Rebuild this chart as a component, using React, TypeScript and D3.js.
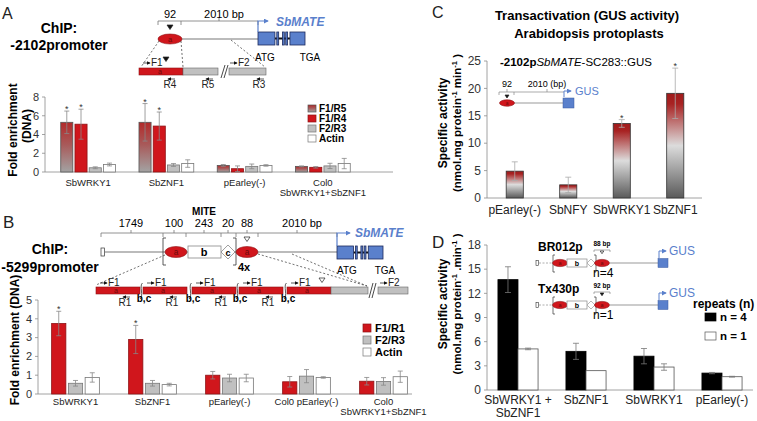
import React from "react";
import * as d3 from "d3";

const FONT = "'Liberation Sans', Arial, Helvetica, sans-serif";
const RED = "#d0161c";
const RED_DARK = "#8e1215";
const GREY = "#c0c0c0";
const AXIS = "#8c8c8c";
const BLUE = "#5a80cc";
const NAVY = "#1d2a5c";

// A: ChIP on the -2102 promoter
const chipAGroups = ["SbWRKY1", "SbZNF1", "pEarley(-)", "Col0\nSbWRKY1+SbZNF1"];
const chipASeries = ["F1/R5", "F1/R4", "F2/R3", "Actin"];
const chipAF1R5 = [5.3, 5.3, 0.7, 0.6];
const chipAF1R5Err = [1.2, 2.0, 0.1, 0.05];
const chipAF1R4 = [5.1, 4.9, 0.35, 0.5];
const chipAF1R4Err = [1.6, 1.5, 0.3, 0.08];
const chipAF2R3 = [0.45, 0.75, 0.6, 0.65];
const chipAF2R3Err = [0.1, 0.15, 0.25, 0.28];
const chipAActin = [0.8, 0.9, 0.7, 0.9];
const chipAActinErr = [0.15, 0.4, 0.08, 0.55];
const chipAStars = [true, true, false, false];
const chipATicks = [0, 2, 4, 6, 8];

// B: ChIP on the -5299 promoter
const chipBGroups = ["SbWRKY1", "SbZNF1", "pEarley(-)", "Col0 pEarley(-)", "Col0\nSbWRKY1+SbZNF1"];
const chipBSeries = ["F1/R1", "F2/R3", "Actin"];
const chipBF1R1 = [3.75, 2.9, 1.0, 0.65, 0.68];
const chipBF1R1Err = [0.65, 0.75, 0.2, 0.28, 0.2];
const chipBF2R3 = [0.57, 0.57, 0.85, 0.95, 0.67];
const chipBF2R3Err = [0.15, 0.15, 0.2, 0.35, 0.2];
const chipBActin = [0.88, 0.5, 0.85, 0.88, 0.92];
const chipBActinErr = [0.25, 0.07, 0.2, 0.04, 0.3];
const chipBStars = [true, true, false, false, false];
const chipBTicks = [0, 1, 2, 3, 4, 5];

// C: GUS transactivation
const gusCats = ["pEarley(-)", "SbNFY", "SbWRKY1", "SbZNF1"];
const gusActivity = [4.9, 2.4, 13.6, 19.1];
const gusErr = [1.7, 1.4, 0.7, 4.6];
const gusStars = [false, false, true, true];
const gusTicks = [0, 5, 10, 15, 20, 25];

// D: repeats
const repCats = ["SbWRKY1 +\nSbZNF1", "SbZNF1", "SbWRKY1", "pEarley(-)"];
const repSeries = ["n = 4", "n = 1"];
const repN4 = [13.7, 4.8, 4.2, 2.1];
const repN4Err = [1.6, 1.0, 0.95, 0.08];
const repN1 = [5.1, 2.4, 2.85, 1.65];
const repN1Err = [0.1, 0, 0.4, 0.05];
const repTicks = [0, 3, 6, 9, 12, 15, 18];

type Series = { key: string; values: number[]; errors: number[]; fill: string; stroke: string };

function GroupedBars({ groups, series, x0, y, innerPad, errColor, stars, starKeys, cap = 2.5 }: any) {
  const x1 = d3
    .scaleBand<string>()
    .domain(series.map((s: Series) => s.key))
    .range([0, x0.bandwidth()])
    .paddingInner(innerPad);
  const bw = x1.bandwidth();
  return (
    <g>
      {groups.map((g: string, gi: number) => (
        <g key={g} transform={`translate(${x0(g)},0)`}>
          {series.map((s: Series) => {
            const v = s.values[gi];
            const e = s.errors[gi];
            const bx = x1(s.key)!;
            const cx = bx + bw / 2;
            const lo = y(Math.max(0, v - e));
            const hi = y(v + e);
            return (
              <g key={s.key}>
                <rect x={bx} y={y(v)} width={bw} height={y(0) - y(v)} fill={s.fill} stroke={s.stroke} strokeWidth={0.8} />
                {e > 0 && (
                  <g stroke={errColor} strokeWidth={0.8}>
                    <line x1={cx} x2={cx} y1={hi} y2={lo} />
                    <line x1={cx - cap} x2={cx + cap} y1={hi} y2={hi} />
                    <line x1={cx - cap} x2={cx + cap} y1={lo} y2={lo} />
                  </g>
                )}
                {stars && starKeys.includes(s.key) && stars[gi] && (
                  <text x={cx} y={hi + 1} textAnchor="middle" fontSize={9} fill="#333">
                    *
                  </text>
                )}
              </g>
            );
          })}
        </g>
      ))}
    </g>
  );
}

function YAxis({ y, x, ticks, fontSize }: any) {
  const [y0, y1] = y.range();
  return (
    <g>
      <line x1={x} x2={x} y1={y0} y2={y1} stroke={AXIS} strokeWidth={0.8} />
      {ticks.map((t: number) => (
        <g key={t}>
          <line x1={x - 3} x2={x} y1={y(t)} y2={y(t)} stroke={AXIS} strokeWidth={0.8} />
          <text x={x - 6} y={y(t)} dy="0.35em" textAnchor="end" fontSize={fontSize} fill="#333">
            {t}
          </text>
        </g>
      ))}
    </g>
  );
}

function CatLabels({ x, groups, y0, lh, fontSize }: any) {
  return (
    <g>
      {groups.map((g: string) => (
        <text key={g} x={x(g) + x.bandwidth() / 2} y={y0} textAnchor="middle" fontSize={fontSize} fill="#222">
          {g.split("\n").map((line, i) => (
            <tspan key={i} x={x(g) + x.bandwidth() / 2} dy={i === 0 ? 0 : lh}>
              {line}
            </tspan>
          ))}
        </text>
      ))}
    </g>
  );
}

function RedA({ cx, cy, rx, ry }: any) {
  return (
    <g>
      <ellipse cx={cx} cy={cy} rx={rx} ry={ry} fill={RED} stroke={RED_DARK} strokeWidth={0.6} />
      <text x={cx} y={cy + ry * 0.55} textAnchor="middle" fontSize={ry * 1.5} fill="#6b0b0b">
        a
      </text>
    </g>
  );
}

function Gene({ x, y, w, h }: any) {
  const mid = y + h / 2;
  return (
    <g stroke={NAVY} strokeWidth={0.8} fill={BLUE}>
      <line x1={x + w * 0.36} x2={x + w * 0.68} y1={mid} y2={mid} stroke="#111" strokeWidth={2} />
      <rect x={x} y={y} width={w * 0.36} height={h} />
      <rect x={x + w * 0.4} y={y} width={w * 0.04} height={h} />
      <rect x={x + w * 0.52} y={y} width={w * 0.04} height={h} />
      <rect x={x + w * 0.59} y={y} width={w * 0.04} height={h} />
      <rect x={x + w * 0.68} y={y} width={w * 0.32} height={h} />
    </g>
  );
}

const tri = (cx: number, top: number, s: number, filled: boolean) => (
  <path
    d={`M${cx - s},${top}L${cx + s},${top}L${cx},${top + s * 1.5}Z`}
    fill={filled ? "#111" : "#fff"}
    stroke="#222"
    strokeWidth={0.7}
  />
);

const fwd = (x: number, y: number, label: string) => (
  <g key={`f${x}`}>
    <line x1={x} x2={x + 7} y1={y} y2={y} stroke="#111" strokeWidth={0.7} markerEnd="url(#ah)" />
    <text x={x + 8} y={y + 3} fontSize={10} fill="#222">
      {label}
    </text>
  </g>
);

const rev = (xc: number, y: number, label: string) => (
  <g key={`r${xc}`}>
    <line x1={xc + 5} x2={xc - 2} y1={y} y2={y} stroke="#111" strokeWidth={0.7} markerEnd="url(#ah)" />
    <text x={xc} y={y + 9} textAnchor="middle" fontSize={10} fill="#222">
      {label}
    </text>
  </g>
);

function Sup({ children }: any) {
  return (
    <>
      <tspan dy={-4} fontSize={7.5}>
        {children}
      </tspan>
      <tspan dy={4}> </tspan>
    </>
  );
}

export default function App() {
  // panel A scales
  const aY = d3.scaleLinear().domain([0, 8]).range([172, 97]);
  const aX = d3.scaleBand<string>().domain(chipAGroups).range([49, 362]).paddingInner(0.3).paddingOuter(0.15);
  const aSeries: Series[] = [
    { key: chipASeries[0], values: chipAF1R5, errors: chipAF1R5Err, fill: "url(#gradA)", stroke: "#555" },
    { key: chipASeries[1], values: chipAF1R4, errors: chipAF1R4Err, fill: RED, stroke: RED_DARK },
    { key: chipASeries[2], values: chipAF2R3, errors: chipAF2R3Err, fill: GREY, stroke: "#777" },
    { key: chipASeries[3], values: chipAActin, errors: chipAActinErr, fill: "#fff", stroke: "#777" },
  ];

  // panel B scales
  const bY = d3.scaleLinear().domain([0, 5]).range([394, 300]);
  const bX = d3.scaleBand<string>().domain(chipBGroups).range([37, 422]).paddingInner(0.38).paddingOuter(0.19);
  const bSeries: Series[] = [
    { key: chipBSeries[0], values: chipBF1R1, errors: chipBF1R1Err, fill: RED, stroke: RED_DARK },
    { key: chipBSeries[1], values: chipBF2R3, errors: chipBF2R3Err, fill: GREY, stroke: "#777" },
    { key: chipBSeries[2], values: chipBActin, errors: chipBActinErr, fill: "#fff", stroke: "#777" },
  ];

  // panel C scales
  const cY = d3.scaleLinear().domain([0, 25]).range([198, 61]);
  const cX = d3.scaleBand<string>().domain(gusCats).range([488, 702]).paddingInner(0.68).paddingOuter(0.34);
  const cSeries: Series[] = [{ key: "gus", values: gusActivity, errors: gusErr, fill: "url(#gradC)", stroke: "#333" }];

  // panel D scales
  const dY = d3.scaleLinear().domain([0, 18]).range([390, 245]);
  const dX = d3.scaleBand<string>().domain(repCats).range([484, 756]).paddingInner(0.41).paddingOuter(0.205);
  const dSeries: Series[] = [
    { key: repSeries[0], values: repN4, errors: repN4Err, fill: "#000", stroke: "#000" },
    { key: repSeries[1], values: repN1, errors: repN1Err, fill: "#fff", stroke: "#555" },
  ];

  const bSegs = [96, 143, 192, 239, 287];

  return (
    <svg
      width={757}
      height={421}
      style={{ position: "absolute", left: 0, top: 0, background: "#fff" }}
      fontFamily={FONT}
    >
      <defs>
        <linearGradient id="gradA" x1="0" y1="0" x2="0" y2="1">
          <stop offset="0" stopColor="#b32a2a" />
          <stop offset="0.45" stopColor="#a85a5a" />
          <stop offset="1" stopColor="#a3a3a3" />
        </linearGradient>
        <linearGradient id="gradC" x1="0" y1="0" x2="0" y2="1">
          <stop offset="0" stopColor="#a01b1b" />
          <stop offset="0.1" stopColor="#a82222" />
          <stop offset="0.5" stopColor="#dcdcdc" />
          <stop offset="1" stopColor="#5a5a5a" />
        </linearGradient>
        <marker id="ah" viewBox="0 0 6 6" refX="5" refY="3" markerWidth={4} markerHeight={4} markerUnits="userSpaceOnUse" orient="auto">
          <path d="M0,0L6,3L0,6z" fill="#111" />
        </marker>
        <marker id="ahb" viewBox="0 0 6 6" refX="5" refY="3" markerWidth={5} markerHeight={5} markerUnits="userSpaceOnUse" orient="auto">
          <path d="M0,0L6,3L0,6z" fill={BLUE} />
        </marker>
      </defs>

      {/* ================= Panel A ================= */}
      <text x={2} y={19} fontSize={16} fill="#222">A</text>
      <text x={59} y={33} textAnchor="middle" fontSize={14} fontWeight="bold">ChIP:</text>
      <text x={59} y={50} textAnchor="middle" fontSize={14} fontWeight="bold">-2102promoter</text>

      {/* diagram */}
      <g stroke="#777" strokeWidth={0.8} fill="none">
        <path d="M158,25V21H258V25M181,21V25M219,21V18" />
      </g>
      <text x={170} y={18} textAnchor="middle" fontSize={11}>92</text>
      <text x={224} y={18} textAnchor="middle" fontSize={11}>2010 bp</text>
      {tri(170, 25, 3, true)}
      <line x1={182} x2={258} y1={39} y2={39} stroke="#bbb" strokeWidth={2} />
      <RedA cx={170} cy={39} rx={12} ry={5} />
      <g stroke="#333" strokeWidth={0.7} strokeDasharray="2,2">
        <line x1={159} y1={41} x2={141} y2={67} />
        <line x1={181} y1={41} x2={183} y2={67} />
        <line x1={231} y1={40} x2={265} y2={67} />
      </g>
      <Gene x={258} y={32} w={47} h={13} />
      <path d="M258,32V21H268" stroke={BLUE} strokeWidth={1.2} fill="none" markerEnd="url(#ahb)" />
      <text x={276} y={26} fontSize={12} fontWeight="bold" fontStyle="italic" fill={BLUE}>SbMATE</text>
      <text x={265} y={61} textAnchor="middle" fontSize={10}>ATG</text>
      <text x={310} y={61} textAnchor="middle" fontSize={10}>TGA</text>
      <rect x={139} y={68} width={44} height={7} fill={RED} stroke={RED_DARK} strokeWidth={0.6} />
      <text x={160} y={74} textAnchor="middle" fontSize={7} fill="#6b0b0b">a</text>
      <rect x={183} y={68} width={35} height={7} fill={GREY} stroke="#666" strokeWidth={0.6} />
      <rect x={229} y={68} width={37} height={7} fill={GREY} stroke="#666" strokeWidth={0.6} />
      <path d="M221,78L225,65M224,78L228,65" stroke="#333" strokeWidth={0.9} />
      {tri(166, 57, 3, true)}
      {fwd(143, 63, "F1")}
      {fwd(230, 63, "F2")}
      {rev(170, 79, "R4")}
      {rev(208, 79, "R5")}
      {rev(259, 79, "R3")}

      {/* chart */}
      <YAxis y={aY} x={45} ticks={chipATicks} fontSize={11} />
      <line x1={45} x2={393} y1={172} y2={172} stroke={AXIS} strokeWidth={0.8} />
      <GroupedBars groups={chipAGroups} series={aSeries} x0={aX} y={aY} innerPad={0.15} errColor="#888" stars={chipAStars} starKeys={["F1/R5", "F1/R4"]} />
      <CatLabels x={aX} groups={chipAGroups} y0={186} lh={10} fontSize={9.5} />
      <text transform="translate(17,130) rotate(-90)" textAnchor="middle" fontSize={12} fontWeight="bold">Fold enrichment</text>
      <text transform="translate(31,126) rotate(-90)" textAnchor="middle" fontSize={12} fontWeight="bold">(DNA)</text>
      {aSeries.map((s, i) => (
        <g key={s.key} transform={`translate(308,${105 + i * 10})`}>
          <rect width={8} height={7} fill={s.fill} stroke={s.stroke} strokeWidth={0.7} />
          <text x={11} y={7} fontSize={10} fontWeight="bold">{s.key}</text>
        </g>
      ))}

      {/* ================= Panel B ================= */}
      <text x={3} y={228} fontSize={17} fill="#222">B</text>
      <text x={50} y={254} textAnchor="middle" fontSize={14} fontWeight="bold">ChIP:</text>
      <text x={50} y={272} textAnchor="middle" fontSize={14} fontWeight="bold">-5299promoter</text>

      <text x={204} y={215} textAnchor="middle" fontSize={10} fontWeight="bold">MITE</text>
      {[
        ["1749", 131],
        ["100", 174],
        ["243", 204],
        ["20", 228],
        ["88", 247],
        ["2010 bp", 302],
      ].map(([t, x]) => (
        <text key={t as string} x={x as number} y={227} textAnchor="middle" fontSize={11}>{t}</text>
      ))}
      <g stroke="#777" strokeWidth={0.8} fill="none">
        <path d="M101,237V233H337V237M163,233V237M186,233V237M221,233V237M236,233V237M258,233V237" />
        <path d="M131,233V230M174,233V230M204,233V230M228,233V230M247,233V230M297,233V230" />
      </g>
      <line x1={105} x2={337} y1={252} y2={252} stroke="#bbb" strokeWidth={2} />
      <rect x={101} y={248} width={3.5} height={8} fill="#fff" stroke="#333" strokeWidth={0.7} />
      <path d="M166,238H163V265H166M233,238H236V265H233" stroke="#333" strokeWidth={0.8} fill="none" />
      <RedA cx={176} cy={252} rx={11} ry={5.5} />
      <rect x={188} y={246} width={33} height={12} fill="#fff" stroke="#888" strokeWidth={0.8} />
      <text x={204} y={256} textAnchor="middle" fontSize={11} fontWeight="bold">b</text>
      <path d="M221,252L228,245L235,252L228,259Z" fill="#fff" stroke="#888" strokeWidth={0.8} />
      <text x={228} y={255.5} textAnchor="middle" fontSize={9} fontWeight="bold">c</text>
      <RedA cx={247} cy={252} rx={11} ry={5.5} />
      {tri(247, 237, 3, false)}
      <text x={238} y={271} fontSize={11} fontWeight="bold">4x</text>
      <Gene x={337} y={246} w={46} h={13} />
      <path d="M337,246V233H350" stroke={BLUE} strokeWidth={1.2} fill="none" markerEnd="url(#ahb)" />
      <text x={355} y={237} fontSize={12} fontWeight="bold" fontStyle="italic" fill={BLUE}>SbMATE</text>
      <text x={347} y={274} textAnchor="middle" fontSize={10}>ATG</text>
      <text x={385} y={274} textAnchor="middle" fontSize={10}>TGA</text>
      <g stroke="#333" strokeWidth={0.7} strokeDasharray="2,2">
        <line x1={165} y1={255} x2={96} y2={285} />
        <line x1={258} y1={254} x2={367} y2={286} />
        <line x1={292} y1={254} x2={367} y2={286} />
      </g>
      {bSegs.map((x) => (
        <g key={x}>
          <rect x={x} y={287} width={44} height={7} fill={RED} stroke={RED_DARK} strokeWidth={0.6} />
          <text x={x + 20} y={293} textAnchor="middle" fontSize={7} fill="#6b0b0b">a</text>
          {fwd(x + 4, 283, "F1")}
        </g>
      ))}
      {bSegs.slice(1).map((x) => (
        <g key={`c${x}`}>
          <path d={`M${x - 0.5},283C${x - 4},285 ${x + 1},297 ${x - 3},299`} stroke="#333" strokeWidth={0.8} fill="none" />
          <text x={x + 1} y={302} textAnchor="middle" fontSize={10} fontWeight="bold">b,c</text>
        </g>
      ))}
      {bSegs.slice(0, 4).map((x) => rev(x + 29, 297, "R1"))}
      {tri(322, 278, 3, false)}
      <rect x={331} y={287} width={37} height={7} fill={GREY} stroke="#666" strokeWidth={0.6} />
      <path d="M369,298L373,283M372,298L376,283" stroke="#333" strokeWidth={0.9} />
      <rect x={378} y={287} width={30} height={7} fill={GREY} stroke="#666" strokeWidth={0.6} />
      {fwd(380, 283, "F2")}

      <YAxis y={bY} x={38} ticks={chipBTicks} fontSize={11} />
      <line x1={38} x2={412} y1={394} y2={394} stroke={AXIS} strokeWidth={0.8} />
      <GroupedBars groups={chipBGroups} series={bSeries} x0={bX} y={bY} innerPad={0.15} errColor="#888" stars={chipBStars} starKeys={["F1/R1"]} />
      <CatLabels x={bX} groups={chipBGroups} y0={405} lh={10} fontSize={9.5} />
      <text transform="translate(19,340) rotate(-90)" textAnchor="middle" fontSize={12} fontWeight="bold">Fold enrichment (DNA)</text>
      {bSeries.map((s, i) => (
        <g key={s.key} transform={`translate(363,${324 + i * 12})`}>
          <rect width={8} height={8} fill={s.fill} stroke={s.stroke} strokeWidth={0.7} />
          <text x={12} y={8} fontSize={11} fontWeight="bold">{s.key}</text>
        </g>
      ))}

      {/* ================= Panel C ================= */}
      <text x={432} y={18} fontSize={16} fill="#222">C</text>
      <text x={587} y={20} textAnchor="middle" fontSize={13} fontWeight="bold">Transactivation (GUS activity)</text>
      <text x={589} y={38} textAnchor="middle" fontSize={13} fontWeight="bold">Arabidopsis protoplasts</text>
      <YAxis y={cY} x={487} ticks={gusTicks} fontSize={12} />
      <line x1={487} x2={702} y1={198} y2={198} stroke={AXIS} strokeWidth={0.8} />
      <GroupedBars groups={gusCats} series={cSeries} x0={cX} y={cY} innerPad={0} errColor="#aaa" cap={3} stars={gusStars} starKeys={["gus"]} />
      <CatLabels x={cX} groups={gusCats} y0={214} lh={12} fontSize={12} />
      <text transform="translate(447,123) rotate(-90)" textAnchor="middle" fontSize={12} fontWeight="bold">Specific activity</text>
      <text transform="translate(461,123) rotate(-90)" textAnchor="middle" fontSize={11.5} fontWeight="bold">
        (nmol.mg protein<Sup>-1</Sup>min<Sup>-1</Sup>)
      </text>
      <text x={500} y={66} fontSize={11.5}>
        <tspan fontWeight="bold">-2102p</tspan>
        <tspan fontStyle="italic">SbMATE</tspan>
        <tspan>-SC283::GUS</tspan>
      </text>
      <text x={507} y={87} textAnchor="middle" fontSize={9}>92</text>
      <text x={547} y={87} textAnchor="middle" fontSize={9}>2010 (bp)</text>
      <path d="M499,95V92H564M514,92V95M507,92V89M547,92V89" stroke="#888" strokeWidth={0.7} fill="none" />
      {tri(507, 95, 2, true)}
      <line x1={514} x2={563} y1={103} y2={103} stroke="#bbb" strokeWidth={1.6} />
      <RedA cx={507} cy={103} rx={7.5} ry={3.2} />
      <rect x={563} y={98} width={11} height={10} fill={BLUE} stroke="#3a5aa0" strokeWidth={0.5} />
      <path d="M564,97V91H571" stroke={BLUE} strokeWidth={1} fill="none" markerEnd="url(#ahb)" />
      <text x={575} y={95} fontSize={11} fill={BLUE}>GUS</text>

      {/* ================= Panel D ================= */}
      <text x={432} y={248} fontSize={17} fill="#222">D</text>
      <YAxis y={dY} x={487} ticks={repTicks} fontSize={12} />
      <line x1={487} x2={753} y1={390} y2={390} stroke={AXIS} strokeWidth={0.8} />
      <GroupedBars groups={repCats} series={dSeries} x0={dX} y={dY} innerPad={0} errColor="#777" cap={3} />
      <CatLabels x={dX} groups={repCats} y0={404} lh={13} fontSize={12} />
      <text transform="translate(447,304) rotate(-90)" textAnchor="middle" fontSize={12} fontWeight="bold">Specific activity</text>
      <text transform="translate(461,304) rotate(-90)" textAnchor="middle" fontSize={11.5} fontWeight="bold">
        (nmol.mg protein<Sup>-1</Sup>.min<Sup>-1</Sup>)
      </text>

      {/* inset constructs */}
      {[
        { name: "BR012p", bp: "88 bp", n: "n=4", y: 263, filled: false },
        { name: "Tx430p", bp: "92 bp", n: "n=1", y: 305, filled: true },
      ].map((c) => (
        <g key={c.name}>
          <text x={538} y={c.y - 12} fontSize={12} fontWeight="bold">{c.name}</text>
          <text x={602} y={c.y - 17} textAnchor="middle" fontSize={6.5} fontWeight="bold">{c.bp}</text>
          <path d={`M594,${c.y - 11}V${c.y - 13}H610V${c.y - 11}`} stroke="#777" strokeWidth={0.6} fill="none" />
          {tri(602, c.y - 12, 1.8, c.filled)}
          <rect x={536} y={c.y - 2.5} width={2.5} height={5} fill="#fff" stroke="#333" strokeWidth={0.6} />
          <line x1={539} x2={553} y1={c.y} y2={c.y} stroke="#999" strokeWidth={0.8} strokeDasharray="2,1.5" />
          <line x1={610} x2={658} y1={c.y} y2={c.y} stroke="#bbb" strokeWidth={1.6} />
          <path d={`M555,${c.y - 8}H553V${c.y + 9}H555M594,${c.y - 8}H596V${c.y + 9}H594`} stroke="#333" strokeWidth={0.7} fill="none" />
          <RedA cx={560} cy={c.y} rx={7.5} ry={3.6} />
          <rect x={567} y={c.y - 4} width={20} height={8} fill="#fff" stroke="#888" strokeWidth={0.7} />
          <text x={577} y={c.y + 2.5} textAnchor="middle" fontSize={7} fontWeight="bold">b</text>
          <path d={`M587,${c.y}L591,${c.y - 4}L595,${c.y}L591,${c.y + 4}Z`} fill="#fff" stroke="#888" strokeWidth={0.6} />
          <RedA cx={602} cy={c.y} rx={7.5} ry={3.6} />
          <text x={593} y={c.y + 14} fontSize={12}>{c.n}</text>
          <rect x={658} y={c.y - 4.5} width={10} height={9} fill={BLUE} stroke="#3a5aa0" strokeWidth={0.5} />
          <path d={`M659,${c.y - 5}V${c.y - 12}H666`} stroke={BLUE} strokeWidth={1} fill="none" markerEnd="url(#ahb)" />
          <text x={669} y={c.y - 8} fontSize={12} fill={BLUE}>GUS</text>
        </g>
      ))}

      <text x={693} y={308} fontSize={12} fontWeight="bold">repeats (n)</text>
      {dSeries.map((s, i) => (
        <g key={s.key} transform={`translate(705,${313 + i * 19})`}>
          <rect width={11} height={8} fill={s.fill} stroke={s.stroke} strokeWidth={0.7} />
          <text x={15} y={8} fontSize={11.5} fontWeight="bold">{s.key}</text>
        </g>
      ))}
    </svg>
  );
}
